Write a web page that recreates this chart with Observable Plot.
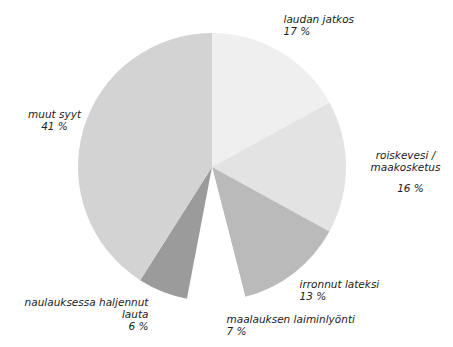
<!DOCTYPE html>
<html>
<head>
<meta charset="utf-8">
<script src="https://cdn.jsdelivr.net/npm/d3@7"></script>
<script src="https://cdn.jsdelivr.net/npm/@observablehq/plot@0.6"></script>
<style>
  html, body { margin: 0; padding: 0; background: #fff; }
  #chart { width: 453px; height: 347px; }
</style>
</head>
<body>
<div id="chart"></div>
<script>
// ---- data ----
const categories = [
  "laudan jatkos",
  "roiskevesi / maakosketus",
  "irronnut lateksi",
  "maalauksen laiminlyönti",
  "naulauksessa haljennut lauta",
  "muut syyt"
];
const shares = [17, 16, 13, 7, 6, 41];
const labelTexts = [
  "laudan jatkos\n17 %",
  "roiskevesi /\nmaakosketus",
  "irronnut lateksi\n13 %",
  "maalauksen laiminlyönti\n7 %",
  "naulauksessa haljennut\nlauta\n6 %",
  "muut syyt\n41 %"
];
const extraLabels = ["16 %"];

// ---- styles / layout ----
const W = 453, H = 347;
const sliceColors = ["#efefef", "#e3e3e3", "#bababa", "#ffffff", "#9b9b9b", "#d3d3d3"];
const pieCenter = {x: 212, y: 167};
const pieRadius = 134;
const labelPos = [
  {x: 283, y: 14, anchor: "start"},
  {x: 405, y: 150, anchor: "middle"},
  {x: 299, y: 279, anchor: "start"},
  {x: 226, y: 314, anchor: "start"},
  {x: 148, y: 297, anchor: "end"},
  {x: 54, y: 109, anchor: "middle"}
];
const extraPos = [{x: 410, y: 183, anchor: "middle"}];

const slices = categories.map((c, i) => ({category: c, value: shares[i]}));
const arcs = d3.pie().sort(null).value(d => d.value)(slices);

const labels = labelTexts.map((t, i) => ({text: t, ...labelPos[i]}))
  .concat(extraLabels.map((t, i) => ({text: t, ...extraPos[i]})));

function pieMark(index, scales) {
  const cx = scales.x(pieCenter.x), cy = scales.y(pieCenter.y);
  const r = Math.abs(scales.x(pieCenter.x + pieRadius) - cx);
  const arcGen = d3.arc().innerRadius(0).outerRadius(r);
  const g = d3.create("svg:g").attr("transform", `translate(${cx},${cy})`);
  g.selectAll("path").data(arcs).join("path")
    .attr("d", arcGen)
    .attr("fill", d => scales.color(d.data.category))
    .attr("stroke", "none");
  return g.node();
}

const textStyle = {
  fontFamily: "DejaVu Sans",
  fontStyle: "italic",
  fontSize: 10.5,
  fill: "#222",
  lineAnchor: "top",
  lineHeight: 1.15
};

const plot = Plot.plot({
  width: W,
  height: H,
  margin: 0,
  x: {domain: [0, W], range: [0, W], axis: null},
  y: {domain: [0, H], range: [0, H], axis: null},
  color: {domain: categories, range: sliceColors},
  style: {background: "#fff"},
  marks: [
    pieMark,
    ...["start", "middle", "end"].map(a =>
      Plot.text(labels.filter(d => d.anchor === a), {
        x: "x", y: "y", text: "text", textAnchor: a, ...textStyle
      })
    )
  ]
});
document.getElementById("chart").appendChild(plot);
</script>
</body>
</html>
